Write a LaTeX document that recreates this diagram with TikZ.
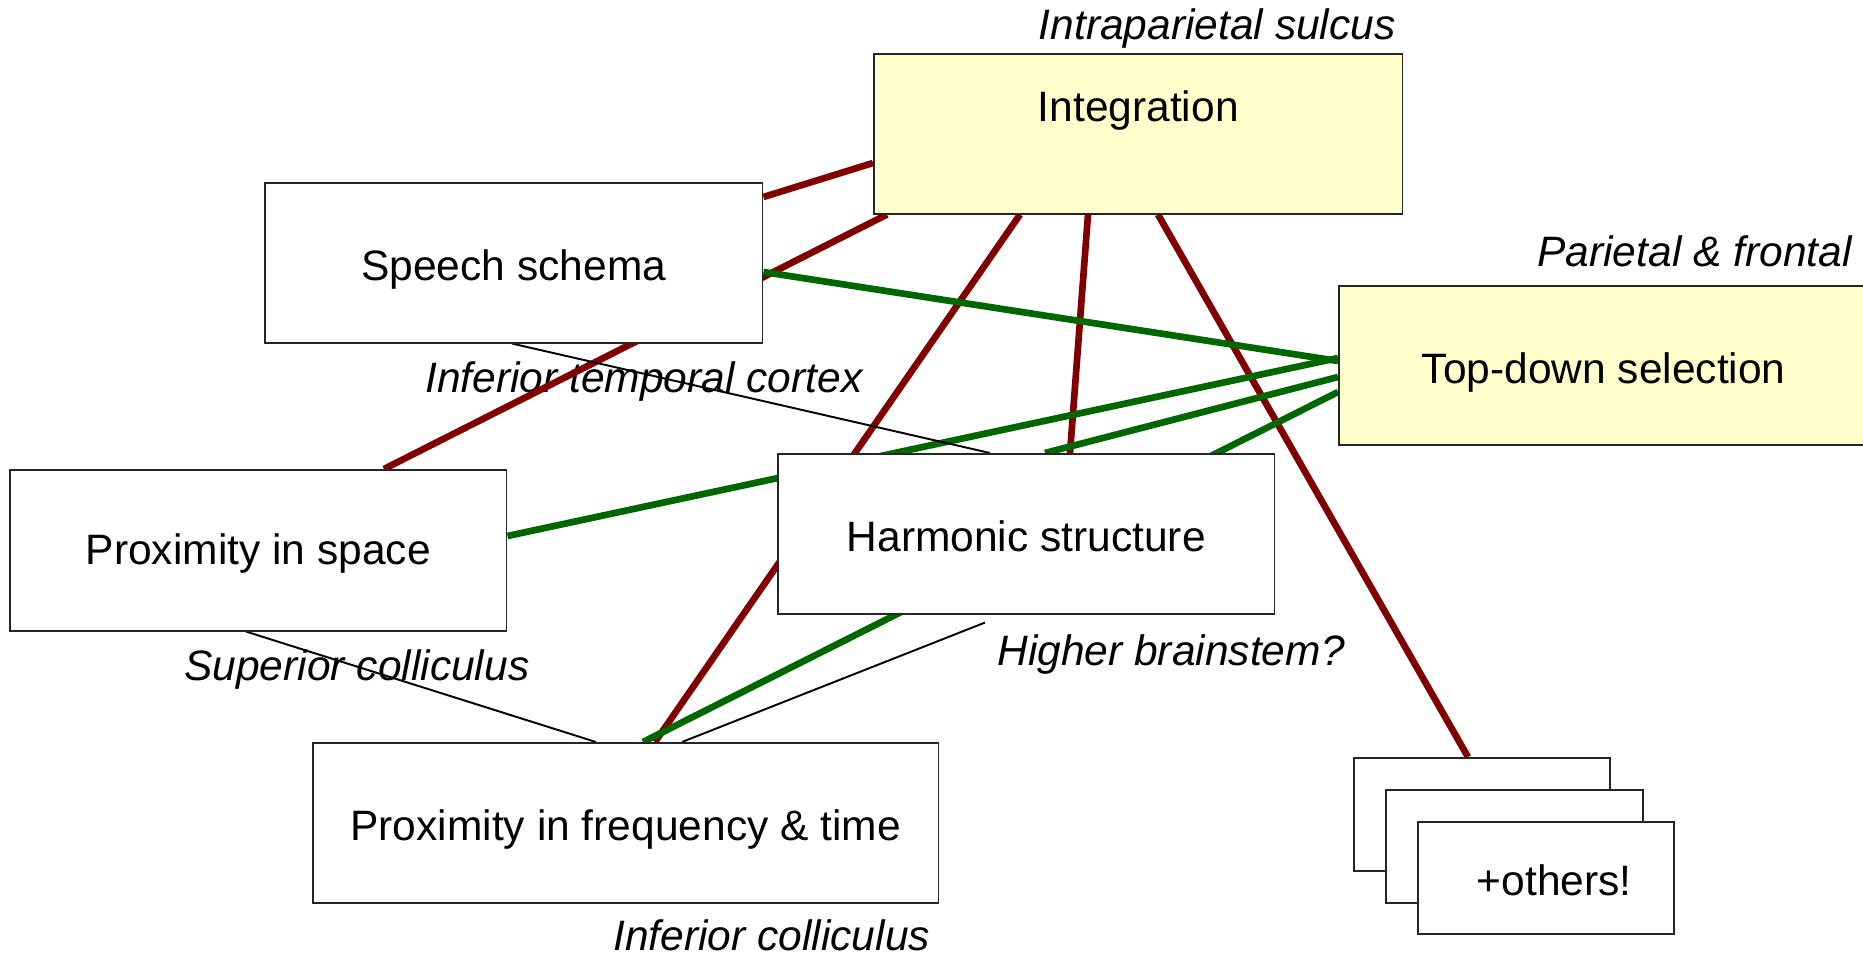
\documentclass[tikz,border=0pt]{standalone}
\usepackage{fontspec}
\setmainfont{Liberation Sans}
\usetikzlibrary{calc}
\definecolor{linkred}{RGB}{128,0,0}
\definecolor{linkgreen}{RGB}{0,102,0}
\definecolor{boxyellow}{RGB}{255,255,204}
\pgfdeclarelayer{back}
\pgfsetlayers{back,main}
\begin{document}
\begin{tikzpicture}[x=0.02cm,y=-0.02cm,
  box/.style={draw=black!85, line width=0.9pt, fill=white, rectangle,
    anchor=north west, inner sep=0pt,
    font=\fontsize{24.2}{29}\selectfont, text height=24pt, text depth=3.5pt},
  yellowbox/.style={box, fill=boxyellow},
  area/.style={font=\fontsize{24.2}{29}\selectfont\itshape, inner sep=0pt},
  redlink/.style={linkred, line width=3.8pt},
  greenlink/.style={linkgreen, line width=3.8pt},
  thinlink/.style={black, line width=1.1pt},
]
\useasboundingbox (0,0) rectangle (1863,956);

% processing stages
\node[yellowbox, minimum width=10.58cm, minimum height=3.2cm, text depth=37.7pt] (int) at (873,53) {Integration};
\node[box, minimum width=9.96cm, minimum height=3.2cm] (sp) at (264,182) {Speech schema};
\node[yellowbox, minimum width=10.6cm, minimum height=3.18cm] (td) at (1338,285) {Top-down selection};
\node[box, minimum width=9.94cm, minimum height=3.22cm, text depth=8pt] (ps) at (9,469) {Proximity in space};
\node[box, minimum width=9.94cm, minimum height=3.2cm] (hs) at (777,453) {Harmonic structure};
\node[box, minimum width=12.52cm, minimum height=3.2cm] (pf) at (312,742) {Proximity in frequency \& time};
\node[box, minimum width=5.12cm, minimum height=2.26cm] (o1) at (1353,757) {};
\node[box, minimum width=5.14cm, minimum height=2.26cm] (o2) at (1385,789) {};
\node[box, minimum width=5.12cm, minimum height=2.24cm] (o3) at (1417,821) {\hskip0.4em+others!};

\begin{pgfonlayer}{back}
% brain areas
\node[area, anchor=base east] (lip) at (1396,40) {Intraparietal sulcus};
\node[area, anchor=base east] (lpf) at (1852,267) {Parietal \& frontal};
\node[area, anchor=base west] (lit) at (425,392) {Inferior temporal cortex};
\node[area, anchor=base west] (lsc) at (184,680) {Superior colliculus};
\node[area, anchor=base west] (lhb) at (997,665) {Higher brainstem?};
\node[area, anchor=base west] (lic) at (613,950) {Inferior colliculus};

% integration links
\draw[redlink] (int.north west) ++(0,110) -- ($(sp.north east)+(0,15)$);
\draw[redlink] (int.south west) ++(14,0) -- ($(ps.north west)+(375,0)$);
\draw[redlink] (int.south west) ++(147,0) -- ($(pf.north west)+(343,0)$);
\draw[redlink] (int.south west) ++(215,0) -- ($(hs.north west)+(293,0)$);
\draw[redlink] (int.south west) ++(285,0) -- ($(o1.north west)+(115,0)$);

% top-down selection links
\draw[greenlink] (sp.north east) ++(0,90) -- ($(td.north west)+(0,76)$);
\draw[greenlink] (ps.north east) ++(0,67) -- ($(td.north west)+(0,73)$);
\draw[greenlink] (hs.north west) ++(268,0) -- ($(td.north west)+(0,92)$);
\draw[greenlink] (pf.north west) ++(331,0) -- ($(td.north west)+(0,107)$);

% bottom-up links
\draw[thinlink] (sp.south west) ++(248,0) -- ($(hs.north west)+(213,0)$);
\draw[thinlink] (ps.south west) ++(237,0) -- ($(pf.north west)+(284,0)$);
\draw[thinlink] (hs.south west) ++(208,8) -- ($(pf.north west)+(370,0)$);
\end{pgfonlayer}
\end{tikzpicture}
\end{document}
